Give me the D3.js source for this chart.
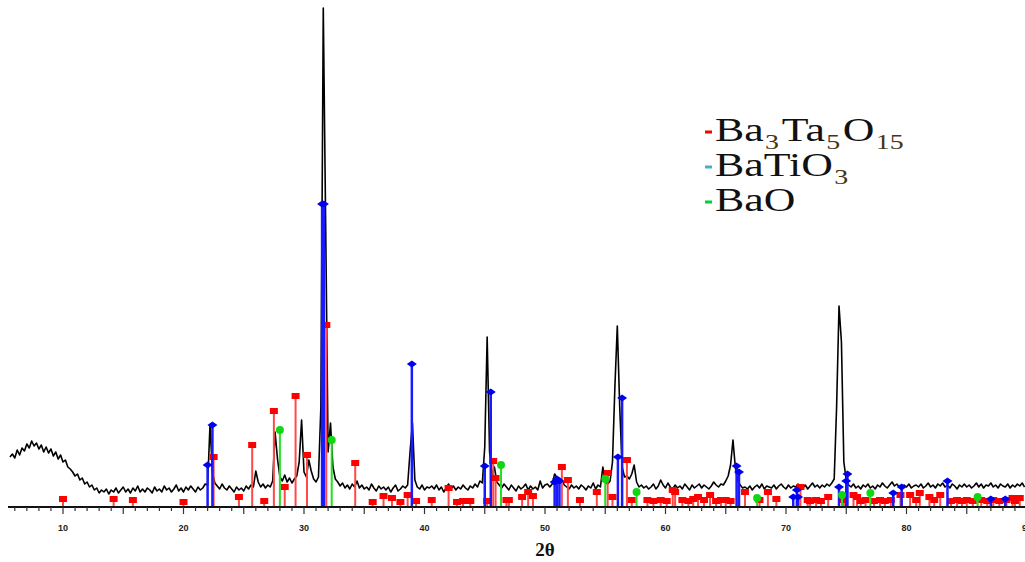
<!DOCTYPE html>
<html>
<head>
<meta charset="utf-8">
<script src="https://cdn.jsdelivr.net/npm/d3@7"></script>
<style>
  html, body { margin: 0; padding: 0; background: #fff; }
  svg { display: block; }
</style>
</head>
<body>
<svg id="chart" width="1025" height="562"></svg>
<script>
// measured pattern, one count value every 0.2 deg, first point at 5.6 deg
const scanStart = 5.6;
const scanStep = 0.2;
const counts = [
  100,106,98,114,104,118,
  112,126,118,132,122,128,116,124,110,120,
  108,116,102,110,96,104,90,94,80,76,
  70,62,66,54,58,46,50,40,44,34,
  38,28,34,30,36,26,34,30,38,28,
  34,40,30,36,28,38,32,42,30,36,
  30,38,34,28,40,32,36,30,42,34,
  38,30,36,44,32,38,30,40,34,42,
  36,30,40,34,38,46,44,164,70,48,
  42,36,46,38,34,42,36,30,40,34,
  38,32,42,36,44,40,72,50,40,46,
  38,44,40,52,150,96,60,52,64,50,
  58,48,56,62,90,174,70,60,94,72,
  56,50,60,200,998,560,110,168,80,56,
  50,42,48,38,44,36,46,40,52,38,
  44,36,40,34,46,38,32,42,36,40,
  34,40,30,38,44,32,36,42,38,44,
  110,168,54,40,36,44,34,40,38,42,
  36,44,34,40,30,38,46,36,42,34,
  40,36,44,38,34,42,38,46,40,52,
  48,120,340,110,64,80,50,44,38,46,
  40,34,44,38,32,42,36,40,46,34,
  42,36,40,34,52,38,44,46,40,46,
  66,58,50,54,44,40,36,44,38,42,
  36,44,40,34,42,38,48,36,44,40,
  80,50,46,52,90,240,362,200,80,60,
  62,56,66,84,50,40,44,38,42,36,
  40,46,36,42,54,44,38,48,40,36,
  44,38,42,36,46,40,34,44,38,42,
  46,38,44,40,36,42,50,44,40,46,
  44,52,62,84,134,78,52,44,38,40,
  36,42,34,40,44,38,46,36,42,40,
  38,44,36,42,46,40,36,44,38,42,
  40,46,42,38,44,36,42,48,40,44,
  38,44,40,46,42,48,56,200,402,330,
  90,54,44,40,46,38,42,36,44,40,
  46,38,42,36,44,40,48,42,38,44,
  50,42,46,40,36,44,40,46,38,42,
  44,40,46,38,42,48,40,44,38,46,
  42,48,40,44,38,46,42,36,44,40,
  46,40,44,38,42,48,40,46,38,44,
  42,48,40,44,38,46,42,40,46,38,
  44,40,46,42,48,40
];

// reference patterns: [2theta, intensity]
const ba3ta5o15 = [
  [10.0,16],[14.2,16],[15.8,14],[20.0,10],[22.5,100],[24.6,20],[25.7,124],[26.7,12],
  [27.5,192],[28.4,40],[29.3,222],[30.25,104],[31.85,364],[34.25,88],[35.7,10],[36.6,22],
  [37.3,18],[38.0,10],[38.6,24],[39.3,12],[40.6,14],[42.0,38],[42.7,10],[43.2,12],
  [43.8,12],[45.2,12],[45.7,92],[45.9,58],[46.8,14],[47.0,14],[48.1,20],[48.6,30],
  [49.0,22],[51.4,80],[51.9,54],[52.9,14],[54.3,30],[55.2,68],[55.6,20],[56.8,94],
  [57.2,14],[58.5,14],[59.0,12],[59.6,14],[60.1,12],[60.6,34],[60.8,30],[61.4,14],
  [61.9,12],[62.3,16],[62.7,20],[63.2,14],[63.7,24],[64.2,12],[64.6,14],[65.0,14],
  [65.4,12],[66.6,30],[67.8,14],[68.5,30],[69.2,16],[71.2,40],[71.8,14],[72.0,12],
  [72.5,14],[72.9,12],[73.5,20],[74.8,14],[75.6,24],[75.9,20],[76.2,12],[76.6,14],
  [77.3,12],[77.8,14],[78.2,12],[78.7,14],[79.5,24],[80.3,24],[80.8,14],[81.1,28],
  [81.9,20],[82.3,14],[82.8,24],[83.7,12],[84.2,14],[84.6,12],[85.0,14],[85.5,12],
  [86.2,14],[86.7,12],[87.2,14],[87.7,12],[88.3,14],[88.8,18],[89.0,12],[89.4,18]
];
const batio3 = [
  [22.0,84],[22.4,164],[31.5,606],[31.65,606],[38.95,286],[45.0,82],[45.5,230],
  [50.8,50],[51.0,56],[51.2,52],[56.05,100],[56.4,218],[65.9,82],[66.1,70],
  [70.6,20],[70.9,34],[71.0,20],[74.4,40],[75.0,52],[75.1,66],[78.9,28],
  [79.6,40],[83.4,52],[87.0,16],[88.2,16]
];
const bao = [
  [28.0,154],[32.3,134],[46.35,84],[55.0,56],[57.6,30],[67.6,18],[74.65,24],
  [77.0,28],[85.9,20]
];

const xTicks = d3.range(6, 90, 1);
const xLabels = [10, 20, 30, 40, 50, 60, 70, 80, 90];

// legend rows: text pieces, "s" marks a subscript
const legendItems = [
  { color: '#ff0000', parts: [['Ba',''],['3','s'],['Ta',''],['5','s'],['O',''],['15','s']] },
  { color: '#4bacc6', parts: [['BaTiO',''],['3','s']] },
  { color: '#00d030', parts: [['BaO','']] }
];

const svg = d3.select('#chart');
const width = 1025, height = 562;

const x = d3.scaleLinear().domain([10, 90]).range([63, 1027]);
const y = d3.scaleLinear().domain([0, 1000]).range([507, 7]);

const pattern = counts.map((c, i) => [+(scanStart + i * scanStep).toFixed(1), c]);

// measured pattern
svg.append('path')
  .datum(pattern)
  .attr('fill', 'none')
  .attr('stroke', '#000')
  .attr('stroke-width', 1.6)
  .attr('stroke-linejoin', 'round')
  .attr('d', d3.line().x(d => x(d[0])).y(d => y(d[1])));

// stick patterns
function drawSticks(data, color, w) {
  const g = svg.append('g');
  g.selectAll('line')
    .data(data)
    .join('line')
    .attr('x1', d => x(d[0]))
    .attr('x2', d => x(d[0]))
    .attr('y1', y(0))
    .attr('y2', d => y(d[1]))
    .attr('stroke', color)
    .attr('stroke-width', w);
  return g;
}

drawSticks(ba3ta5o15, '#ff4848', 2)
  .selectAll('rect')
  .data(ba3ta5o15)
  .join('rect')
  .attr('x', d => x(d[0]) - 4)
  .attr('y', d => y(d[1]) - 3)
  .attr('width', 8)
  .attr('height', 6)
  .attr('fill', '#ff0000');

drawSticks(batio3, '#1a1aff', 2.5)
  .selectAll('path')
  .data(batio3)
  .join('path')
  .attr('transform', d => `translate(${x(d[0])},${y(d[1])})`)
  .attr('d', 'M-5,0L0,-3.5L5,0L0,3.5Z')
  .attr('fill', '#0000ee');

drawSticks(bao, '#20e020', 2)
  .selectAll('circle')
  .data(bao)
  .join('circle')
  .attr('cx', d => x(d[0]))
  .attr('cy', d => y(d[1]))
  .attr('r', 4)
  .attr('fill', '#10d810');

// x axis
const axis = svg.append('g');
axis.append('line')
  .attr('x1', 8).attr('x2', width)
  .attr('y1', y(0)).attr('y2', y(0))
  .attr('stroke', '#111')
  .attr('stroke-width', 2);
axis.selectAll('.tick')
  .data(xTicks)
  .join('line')
  .attr('x1', d => x(d)).attr('x2', d => x(d))
  .attr('y1', y(0))
  .attr('y2', d => y(0) + (d % 5 === 0 ? 7 : 4))
  .attr('stroke', '#333')
  .attr('stroke-width', 1.2);
axis.selectAll('text')
  .data(xLabels)
  .join('text')
  .attr('x', d => x(d))
  .attr('y', 531)
  .attr('text-anchor', 'middle')
  .attr('font-family', 'Liberation Sans, Arial, sans-serif')
  .attr('font-weight', 'bold')
  .attr('font-size', '9px')
  .attr('fill', '#222')
  .text(d => d);

svg.append('text')
  .attr('x', 545)
  .attr('y', 556)
  .attr('text-anchor', 'middle')
  .attr('font-family', 'Liberation Serif, Times New Roman, serif')
  .attr('font-weight', 'bold')
  .attr('font-size', '19px')
  .attr('fill', '#111')
  .text('2θ');

// legend
legendItems.forEach((item, i) => {
  const base = 141 + i * 35;
  svg.append('line')
    .attr('x1', 705).attr('x2', 712)
    .attr('y1', base - 9).attr('y2', base - 9)
    .attr('stroke', item.color)
    .attr('stroke-width', 3);
  const t = svg.append('g')
    .attr('transform', `translate(715,${base}) scale(1.33,1)`)
    .append('text')
    .attr('font-family', 'Liberation Serif, Times New Roman, serif')
    .attr('font-size', '33px')
    .attr('fill', '#111');
  let shifted = false;
  item.parts.forEach(([txt, kind]) => {
    const sp = t.append('tspan').text(txt);
    if (kind === 's') {
      sp.attr('font-size', '21px').attr('fill', '#4a3310').attr('dx', 1);
      if (!shifted) { sp.attr('dy', 8); shifted = true; }
    } else if (shifted) {
      sp.attr('dy', -8).attr('dx', 2);
      shifted = false;
    }
  });
});
</script>
</body>
</html>
